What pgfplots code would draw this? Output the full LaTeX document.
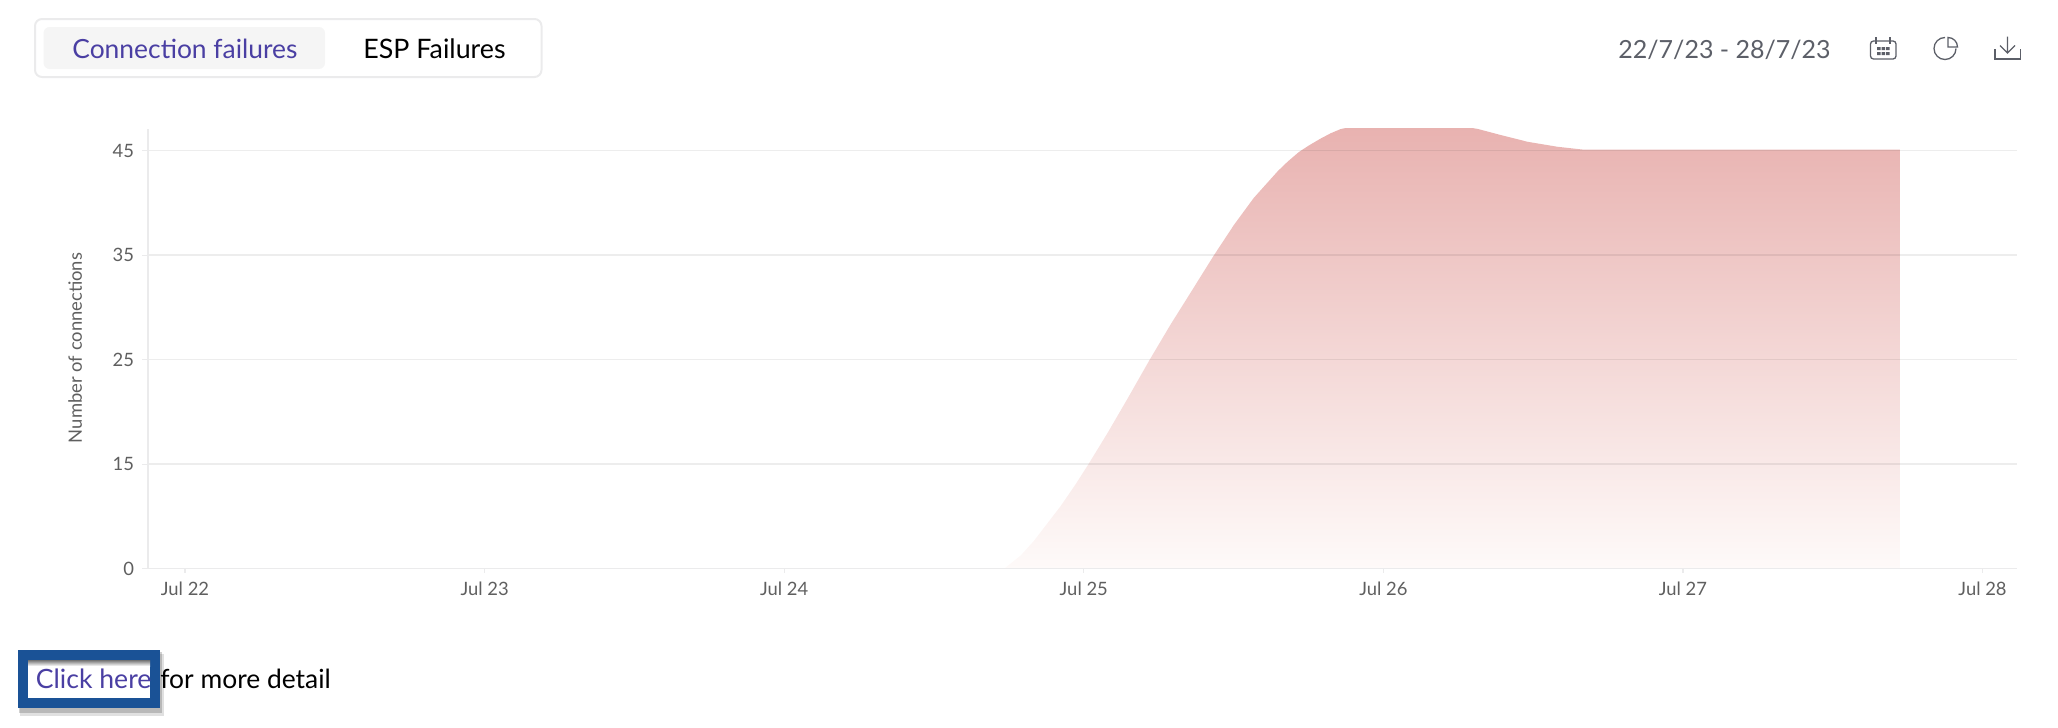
\documentclass[border=0pt]{standalone}
\usepackage{fontspec}
\setmainfont{Lato}
\usepackage{pgfplots}
\pgfplotsset{compat=1.18}

\definecolor{gridgray}{HTML}{EBEBEC}
\definecolor{ticktext}{HTML}{5F5F5F}
\definecolor{linkblue}{HTML}{4A3FA3}
\definecolor{iconDark}{HTML}{5C5F68}
\definecolor{boxblue}{HTML}{1A5296}

% 1 reference pixel = 0.5pt
\newcommand{\fs}[1]{\fontsize{#1}{#1}\selectfont}

\pgfplotstableread{
x      y
22     5
23     5
24     5
24.734 5
24.790 6.28
24.834 7.68
24.923 11.0
24.973 13.09
25.016 15.02
25.080 18.02
25.147 21.32
25.220 25
25.290 28.38
25.357 31.44
25.435 35.02
25.501 37.89
25.567 40.47
25.648 43.06
25.681 43.97
25.718 44.88
25.754 45.55
25.791 46.17
25.824 46.67
25.858 47.08
26.0   47.9
26.15  47.9
26.316 47.08
26.392 46.5
26.481 45.86
26.581 45.38
26.669 45.1
27.724 45.1
27.724 5
}\failures

\begin{document}
\begin{tikzpicture}
\begin{scope}[x=0.5pt,y=-0.5pt]
\path[use as bounding box] (0,0) rectangle (2058,728);

% tab switcher
\draw[draw=gridgray,line width=1pt,rounded corners=3.5pt] (35,19) rectangle (541.5,77);
\fill[fill=black!4,rounded corners=3pt] (43.5,27) rectangle (325,69);
\node[anchor=base west,inner sep=0,text=linkblue] at (72,58) {\fs{13.2}Connection failures};
\node[anchor=base west,inner sep=0,text=black] at (363,58) {\fs{13.4}ESP Failures};

% date range and icons
\node[anchor=base west,inner sep=0,text=iconDark] at (1618,58.5) {\fs{12.5}22/7/23 - 28/7/23};
\begin{scope}[draw=iconDark,line width=0.65pt]
\draw[rounded corners=1.5pt] (1870.5,41) rectangle (1896,59);
\draw (1876,37) -- (1876,44) (1890,37) -- (1890,44);
\fill[iconDark] (1877,47) rectangle +(3.5,3) (1881.5,47) rectangle +(3.5,3) (1886,47) rectangle +(3.5,3)
                (1877,52) rectangle +(3.5,3) (1881.5,52) rectangle +(3.5,3) (1886,52) rectangle +(3.5,3);
\draw (1945,37.5) arc[start angle=-90,end angle=-360,radius=11];
\draw (1948,37.5) arc[start angle=-90,end angle=0,radius=9.5] -- (1948,47) -- cycle;
\draw (2007.5,36.5) -- (2007.5,53) (2000,45.5) -- (2007.5,53) -- (2015,45.5);
\draw (1995,49) -- (1995,59) -- (2020.5,59) -- (2020.5,49);
\end{scope}

% link box with its shadow
\fill[black,opacity=0.12] (20,654) rectangle (164,716);
\fill[black,opacity=0.18] (19,652) rectangle (162,713);
\fill[boxblue] (18,650) rectangle (160,707.7);
\fill[white] (28,660) rectangle (150,697.7);
\shade[top color=black!55,bottom color=white] (28,660) rectangle (150,666);
\node[anchor=base west,inner sep=0,text=linkblue] at (35.5,688) {\fs{13.3}Click here};
\node[anchor=base west,inner sep=0,text=black] at (160,688) {\fs{13.2}for more detail};
\end{scope}

\begin{axis}[
    at={(74pt,-284.35pt)},
    anchor=south west,
    scale only axis,
    width=934.5pt,
    height=219.85pt,
    xmin=21.8765, xmax=28.115,
    ymin=5, ymax=47.08,
    axis x line=bottom,
    axis y line=left,
    axis line style={draw=gridgray,line width=0.75pt,-},
    axis on top,
    xtick={22,23,24,25,26,27,28},
    xticklabels={Jul 22,Jul 23,Jul 24,Jul 25,Jul 26,Jul 27,Jul 28},
    ytick={5,15,25,35,45},
    yticklabels={0,15,25,35,45},
    tick align=outside,
    major tick length=3pt,
    xtick style={draw=gridgray,line width=0.6pt,/pgfplots/major tick length=2pt},
    ytick style={draw=gridgray,line width=0.6pt},
    ymajorgrids,
    grid style={draw=black,opacity=0.07,line width=0.75pt},
    xticklabel style={text=ticktext,font=\fs{9.2}},
    yticklabel style={text=ticktext,font=\fs{9.2},xshift=-0.5pt},
    ylabel={Number of connections},
    ylabel style={at={(axis description cs:-0.039,0.502)},anchor=center,text=ticktext,font=\fs{9.2}},
]
\addplot[draw=none,top color={rgb,255:red,232;green,177;blue,175},bottom color={rgb,255:red,254;green,250;blue,249}]
    table[x=x,y=y] {\failures};
\end{axis}
\end{tikzpicture}
\end{document}
